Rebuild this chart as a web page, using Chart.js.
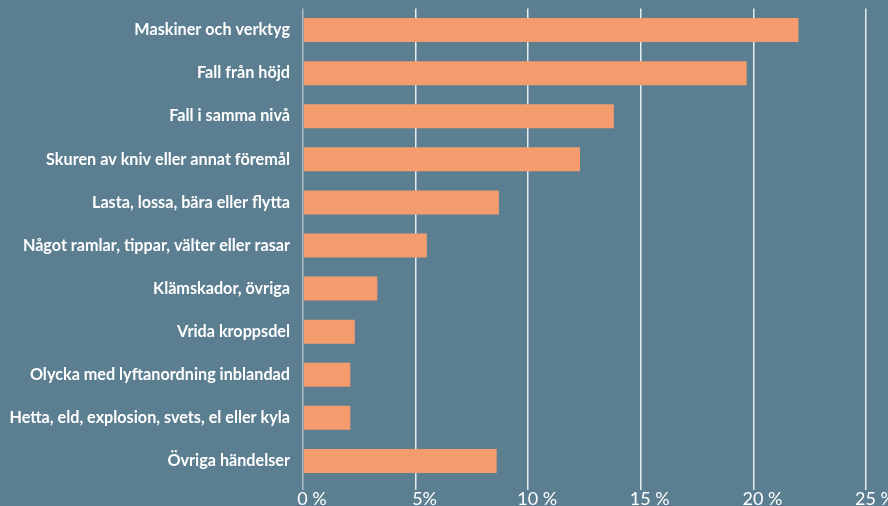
<!DOCTYPE html>
<html>
<head>
<meta charset="utf-8">
<script src="https://cdn.jsdelivr.net/npm/chart.js@4/dist/chart.umd.min.js"></script>
<style>
  html, body { margin: 0; padding: 0; background: #5c7e91; overflow: hidden; }
  #wrap { position: relative; width: 888px; height: 516px; }
</style>
</head>
<body>
<div id="wrap"><canvas id="c"></canvas></div>
<script>
const categories = [
  "Maskiner och verktyg",
  "Fall från höjd",
  "Fall i samma nivå",
  "Skuren av kniv eller annat föremål",
  "Lasta, lossa, bära eller flytta",
  "Något ramlar, tippar, välter eller rasar",
  "Klämskador, övriga",
  "Vrida kroppsdel",
  "Olycka med lyftanordning inblandad",
  "Hetta, eld, explosion, svets, el eller kyla",
  "Övriga händelser"
];
const values = [22.0, 19.7, 13.8, 12.3, 8.7, 5.5, 3.3, 2.3, 2.1, 2.1, 8.6];
const tickValues = [0, 5, 10, 15, 20, 25];
const tickLabels = ["0 %", "5%", "10 %", "15 %", "20 %", "25 %"];

new Chart(document.getElementById('c'), {
  type: 'bar',
  data: {
    labels: categories,
    datasets: [{
      data: values,
      backgroundColor: '#f59c6f',
      borderWidth: 0,
      barPercentage: 0.557,
      categoryPercentage: 1.0
    }]
  },
  options: {
    indexAxis: 'y',
    responsive: true,
    maintainAspectRatio: false,
    animation: false,
    layout: { padding: { top: 8.5, right: 22, left: 0, bottom: 0 } },
    plugins: { legend: { display: false }, tooltip: { enabled: false } },
    scales: {
      x: {
        min: 0, max: 25,
        afterBuildTicks: (axis) => { axis.ticks = tickValues.map(v => ({ value: v })); },
        afterFit: (axis) => { axis.height = 33.5; },
        grid: {
          color: (ctx) => (ctx.tick && ctx.tick.value === 0) ? '#a9bcc7' : '#e6edf1',
          lineWidth: 1.5,
          tickLength: 7.5,
          drawTicks: true
        },
        border: { display: false },
        ticks: {
          color: '#ffffff',
          padding: -2,
          maxRotation: 0,
          autoSkip: false,
          labelOffset: 9,
          font: { family: 'Lato', size: 18 },
          callback: (v) => { const i = tickValues.indexOf(v); return i >= 0 ? tickLabels[i] : ''; }
        }
      },
      y: {
        afterFit: (axis) => { axis.width = 303; axis.paddingTop = 0; axis.paddingBottom = 0; },
        grid: { display: false, drawTicks: false, tickLength: 0 },
        border: { display: false },
        ticks: {
          color: '#ffffff',
          padding: 13,
          font: { family: 'Lato', size: 16.2, weight: 'bold' }
        }
      }
    }
  }
});
</script>
</body>
</html>
